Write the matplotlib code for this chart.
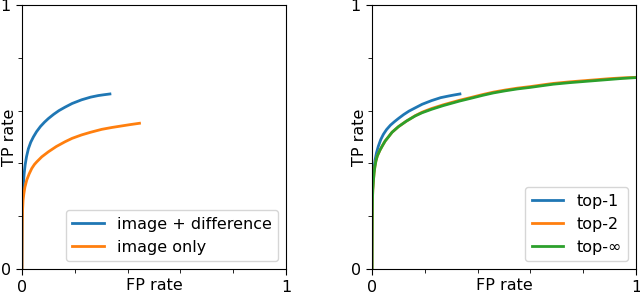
import numpy as np
import matplotlib
matplotlib.use("Agg")
import matplotlib.pyplot as plt
from matplotlib.ticker import MultipleLocator


# left panel: image + difference vs image only
fp_img_diff = [0, 0.0005, 0.001, 0.002, 0.003, 0.005, 0.008, 0.012, 0.017, 0.024,
               0.033, 0.043, 0.055, 0.07, 0.085, 0.1, 0.12, 0.14, 0.163, 0.19,
               0.226, 0.26, 0.289, 0.31, 0.333]
tp_img_diff = [0, 0.12, 0.2, 0.26, 0.29, 0.32, 0.36, 0.395, 0.425, 0.455,
               0.48, 0.50, 0.52, 0.54, 0.556, 0.57, 0.586, 0.6, 0.613, 0.627,
               0.641, 0.651, 0.657, 0.66, 0.663]

fp_img_only = [0, 0.0005, 0.001, 0.002, 0.004, 0.007, 0.011, 0.018, 0.027, 0.037,
               0.047, 0.056, 0.075, 0.1, 0.13, 0.163, 0.19, 0.226, 0.26, 0.302,
               0.34, 0.378, 0.41, 0.445]
tp_img_only = [0, 0.1, 0.17, 0.22, 0.26, 0.285, 0.31, 0.337, 0.36, 0.381,
               0.396, 0.406, 0.425, 0.444, 0.464, 0.482, 0.495, 0.508, 0.518, 0.529,
               0.536, 0.542, 0.547, 0.552]

# right panel: top-k
fp_top1 = fp_img_diff
tp_top1 = [0, 0.14, 0.22, 0.29, 0.32, 0.35, 0.385, 0.415, 0.44, 0.465,
           0.49, 0.51, 0.528, 0.545, 0.558, 0.57, 0.585, 0.598, 0.61, 0.624,
           0.638, 0.649, 0.655, 0.659, 0.663]

fp_topk = [0, 0.0005, 0.001, 0.002, 0.003, 0.005, 0.008, 0.011, 0.015, 0.02,
           0.03, 0.04, 0.05, 0.062, 0.076, 0.1, 0.13, 0.164, 0.19, 0.226,
           0.27, 0.331, 0.38, 0.42, 0.46, 0.505, 0.55, 0.6, 0.65, 0.687,
           0.75, 0.8, 0.85, 0.9, 0.95, 1.0]
tp_top2 = [0, 0.12, 0.2, 0.27, 0.3, 0.33, 0.365, 0.388, 0.41, 0.428,
           0.45, 0.468, 0.485, 0.5, 0.518, 0.539, 0.56, 0.581, 0.594, 0.608,
           0.622, 0.639, 0.651, 0.661, 0.67, 0.678, 0.685, 0.691, 0.698, 0.703,
           0.709, 0.713, 0.717, 0.721, 0.724, 0.726]
tp_topinf = [0, 0.12, 0.2, 0.27, 0.3, 0.33, 0.365, 0.388, 0.41, 0.428,
             0.45, 0.468, 0.485, 0.5, 0.518, 0.539, 0.56, 0.58, 0.592, 0.605,
             0.619, 0.636, 0.648, 0.658, 0.667, 0.675, 0.682, 0.688, 0.695, 0.70,
             0.706, 0.71, 0.714, 0.718, 0.722, 0.725]

FS = 11.5


def style_axes(ax):
    ax.set_xlim(0, 1)
    ax.set_ylim(0, 1)
    ax.xaxis.set_minor_locator(MultipleLocator(0.2))
    ax.yaxis.set_minor_locator(MultipleLocator(0.2))
    ax.set_xticks([0, 1])
    ax.set_yticks([0, 1])
    ax.set_xticklabels(["0", "1"], fontsize=FS)
    ax.set_yticklabels(["0", "1"], fontsize=FS)
    ax.tick_params(which="major", length=4.5)
    ax.tick_params(which="minor", length=3)
    ax.set_xlabel("FP rate", fontsize=FS)
    ax.set_ylabel("TP rate", fontsize=FS)
    ax.xaxis.set_label_coords(0.5, -0.035)
    ax.yaxis.set_label_coords(-0.02, 0.5)


def main():
    fig = plt.figure(figsize=(6.4, 2.94), dpi=100)
    ax1 = fig.add_axes([22 / 640, 25 / 294, 264 / 640, 264 / 294])
    ax2 = fig.add_axes([372 / 640, 25 / 294, 264 / 640, 264 / 294])

    ax1.plot(fp_img_diff, tp_img_diff, color="tab:blue", lw=2, label="image + difference")
    ax1.plot(fp_img_only, tp_img_only, color="tab:orange", lw=2, label="image only")
    style_axes(ax1)
    ax1.legend(loc="lower right", fontsize=FS)

    ax2.plot(fp_top1, tp_top1, color="tab:blue", lw=2, label="top-1")
    ax2.plot(fp_topk, tp_top2, color="tab:orange", lw=2, label="top-2")
    ax2.plot(fp_topk, tp_topinf, color="tab:green", lw=2, label="top-∞")
    style_axes(ax2)
    ax2.legend(loc="lower right", fontsize=FS)

    fig.savefig("out.png", dpi=100)


if __name__ == '__main__':
    main()
